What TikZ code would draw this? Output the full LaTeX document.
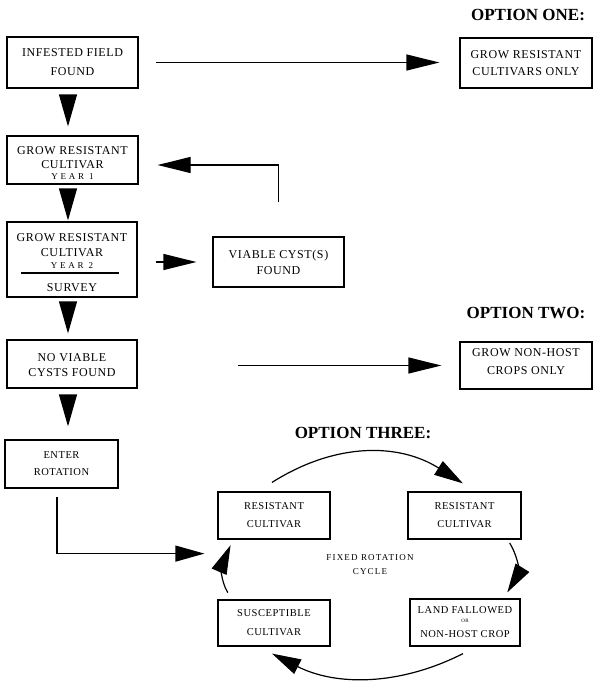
\documentclass[tikz,border=0pt]{standalone}
\usepackage{fontspec}
\setmainfont{Liberation Serif}
\newfontfamily\boxfont[LetterSpace=5]{Liberation Serif}
\newfontfamily\yearfont[LetterSpace=30]{Liberation Serif}
\newfontfamily\cycfont[LetterSpace=13]{Liberation Serif}
\usetikzlibrary{arrows.meta}
\tikzset{
  box/.style={draw, line width=1.2pt, align=center, inner sep=0pt,
    font=\boxfont\fontsize{12}{15}\selectfont},
  rbox/.style={box, font=\boxfont\fontsize{10.5}{18}\selectfont},
  conn/.style={line width=1.2pt},
  dntip/.style={conn, -{Triangle[length=32pt,width=18pt]}},
  hztip/.style={conn, -{Triangle[length=33pt,width=16pt]}},
  cyctip/.style={conn, -{Triangle[length=29pt,width=16pt]}},
  optlabel/.style={font=\bfseries\fontsize{17}{20}\selectfont, inner sep=0pt},
  cyctext/.style={font=\cycfont\fontsize{9}{14}\selectfont, align=center, inner sep=0pt},
}
\begin{document}
\begin{tikzpicture}[x=1pt,y=-1pt]
\useasboundingbox (0,0) rectangle (608,689);

% left column
\node[box, minimum width=131pt, minimum height=51pt,
  font=\boxfont\fontsize{12}{19}\selectfont] (b1) at (72.5,62.5) {INFESTED FIELD\\FOUND};
\node[box, minimum width=131pt, minimum height=48pt] (b2) at (72.5,160)
  {\rule{0pt}{14pt}GROW RESISTANT\\[-1pt]CULTIVAR\\[-4pt]{\yearfont\fontsize{9}{9}\selectfont YEAR 1}};
\node[box, minimum width=130pt, minimum height=75pt] (b3) at (72,259.5)
  {\rule{0pt}{15pt}GROW RESISTANT\\CULTIVAR\\[-3pt]{\yearfont\fontsize{9}{9}\selectfont YEAR 2}\\[8pt]SURVEY};
\draw[conn] ([xshift=15pt,yshift=-13.5pt]b3.west) -- ([xshift=-19pt,yshift=-13.5pt]b3.east);
\node[box, minimum width=131pt, minimum height=50pt,
  font=\boxfont\fontsize{12}{16}\selectfont] (vc) at (278.5,262) {VIABLE CYST(S)\\FOUND};
\node[box, minimum width=130pt, minimum height=48pt] (b5) at (72,364)
  {\rule{0pt}{11pt}NO VIABLE\\CYSTS FOUND};
\node[box, minimum width=113pt, minimum height=48pt,
  font=\boxfont\fontsize{10.5}{17}\selectfont] (en) at (61.5,464) {ENTER\\ROTATION};

% options
\node[optlabel] (l1) at (528,15) {OPTION ONE:};
\node[box, minimum width=132pt, minimum height=50pt,
  font=\boxfont\fontsize{12}{17}\selectfont] (o1) at (526,63) {GROW RESISTANT\\CULTIVARS ONLY};
\node[optlabel] (l2) at (526,313) {OPTION TWO:};
\node[box, minimum width=132pt, minimum height=47pt,
  font=\boxfont\fontsize{12}{18}\selectfont] (o2) at (526,365.5)
  {GROW NON-HOST\\CROPS ONLY\rule[-8pt]{0pt}{8pt}};
\node[optlabel] (l3) at (363,433) {OPTION THREE:};

% rotation cycle
\node[rbox, minimum width=112pt, minimum height=47pt] (r1) at (274,515.5) {RESISTANT\\CULTIVAR};
\node[rbox, minimum width=113pt, minimum height=47pt] (r2) at (464.5,515.5) {RESISTANT\\CULTIVAR};
\node[rbox, minimum width=110pt, minimum height=47pt,
  font=\boxfont\fontsize{10.5}{14}\selectfont] (r3) at (465,622.5)
  {LAND FALLOWED\\[-5pt]{\fontsize{5}{6}\selectfont OR}\\[1pt]NON-HOST CROP};
\node[rbox, minimum width=112pt, minimum height=46pt,
  font=\boxfont\fontsize{10.5}{19}\selectfont] (r4) at (274,623) {SUSCEPTIBLE\\CULTIVAR};
\node[cyctext] (cyc) at (370,565) {FIXED ROTATION\\CYCLE};

% main flow arrows
\draw[dntip, shorten <=7pt, shorten >=9pt] ([xshift=-4.5pt]b1.south) -- ([xshift=-4.5pt]b2.north);
\draw[dntip, shorten <=5pt, shorten >=1pt] ([xshift=-4.5pt]b2.south) -- ([xshift=-4.5pt]b2.south |- b3.north);
\draw[dntip, shorten <=5pt, shorten >=6pt] ([xshift=-4pt]b3.south) -- ([xshift=-4pt]b5.north);
\draw[dntip, shorten <=7pt, shorten >=13pt] ([xshift=-4pt]b5.south) -- ([xshift=-4pt]b5.south |- en.north);

% horizontal arrows
\draw[hztip, shorten <=17pt, shorten >=20pt] (b1.east) -- (b1.east -| o1.west);
\draw[hztip, shorten <=18pt, shorten >=16pt] (b3.east |- vc.west) -- (vc.west);
\draw[hztip, shorten <=34pt, shorten >=19pt] (vc.north) |- ([yshift=-5pt]b2.east);
\draw[hztip, shorten <=100pt, shorten >=18pt] (b5.east |- o2.west) -- (o2.west);
\draw[cyctip, shorten <=8pt] ([xshift=-4.5pt]en.south) |- ([xshift=-13pt,yshift=-14pt]r1.south west);

% cycle arrows
\draw[cyctip] ([xshift=-2pt,yshift=9pt]r1.north) .. controls (336,442) and (399,443) .. ([xshift=-1.5pt,yshift=8pt]r2.north);
\draw[cyctip, shorten <=4pt, shorten >=7pt] ([xshift=-14pt]r2.south east) .. controls (520,560) and (518,575) .. ([xshift=-17pt]r3.north east);
\draw[cyctip] ([xshift=-2pt,yshift=-7pt]r3.south) .. controls (399,686) and (336,686) .. ([xshift=-2pt,yshift=-7pt]r4.south);
\draw[cyctip, shorten <=8pt, shorten >=6pt] ([xshift=-42pt]r4.north) .. controls (220,580) and (222,565) .. ([xshift=-41pt]r1.south);
\end{tikzpicture}
\end{document}
